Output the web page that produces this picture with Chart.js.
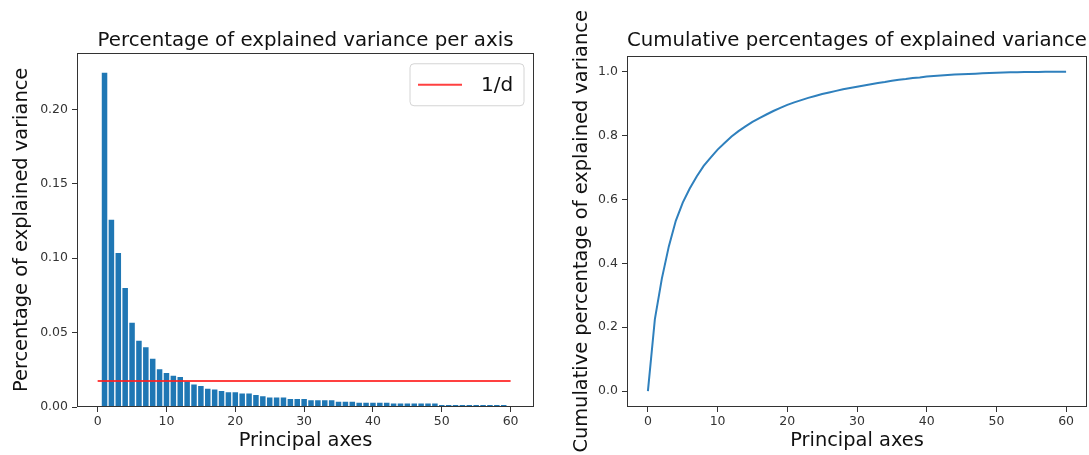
<!DOCTYPE html>
<html>
<head>
<meta charset="utf-8">
<script src="https://cdn.jsdelivr.net/npm/chart.js@4/dist/chart.umd.min.js"></script>
<style>
  html, body { margin: 0; padding: 0; background: #fff; }
  #wrap { position: relative; width: 1089px; height: 455px; }
  canvas { position: absolute; top: 0; }
</style>
</head>
<body>
<div id="wrap">
  <canvas id="varChart" width="545" height="455" style="left:0"></canvas>
  <canvas id="cumChart" width="544" height="455" style="left:545px"></canvas>
</div>
<script>
// principal axis numbers for the bars
const axes = [1, 2, 3, 4, 5, 6, 7, 8, 9, 10, 11, 12, 13, 14, 15, 16, 17, 18, 19, 20,
  21, 22, 23, 24, 25, 26, 27, 28, 29, 30, 31, 32, 33, 34, 35, 36, 37, 38, 39, 40,
  41, 42, 43, 44, 45, 46, 47, 48, 49, 50, 51, 52, 53, 54, 55, 56, 57, 58, 59, 60];

// explained variance ratio per axis
const explained = [0.2245, 0.1258, 0.1035, 0.0800, 0.0566, 0.0445, 0.0402, 0.0324, 0.0253, 0.0228,
  0.0210, 0.0201, 0.0172, 0.0152, 0.0141, 0.0123, 0.0117, 0.0107, 0.0099, 0.0099,
  0.0090, 0.0090, 0.0080, 0.0072, 0.0063, 0.0063, 0.0063, 0.0054, 0.0054, 0.0054,
  0.0045, 0.0045, 0.0045, 0.0045, 0.0036, 0.0036, 0.0036, 0.0029, 0.0029, 0.0029,
  0.0029, 0.0029, 0.0023, 0.0023, 0.0023, 0.0023, 0.0023, 0.0023, 0.0023, 0.0013,
  0.0013, 0.0013, 0.0013, 0.0013, 0.0013, 0.0013, 0.0013, 0.0013, 0.0013, 0.0003];

// the 1/d reference line
const refX = [0, 60];
const refY = [0.0175, 0.0175];

// cumulative curve, index 0..60
const cumIndex = [0, 1, 2, 3, 4, 5, 6, 7, 8, 9, 10, 11, 12, 13, 14, 15, 16, 17, 18, 19, 20,
  21, 22, 23, 24, 25, 26, 27, 28, 29, 30, 31, 32, 33, 34, 35, 36, 37, 38, 39, 40,
  41, 42, 43, 44, 45, 46, 47, 48, 49, 50, 51, 52, 53, 54, 55, 56, 57, 58, 59, 60];
const cumulative = [0, 0.225, 0.352, 0.453, 0.533, 0.590, 0.634, 0.672, 0.705, 0.731, 0.756,
  0.777, 0.797, 0.814, 0.829, 0.843, 0.855, 0.866, 0.877, 0.887, 0.896,
  0.904, 0.911, 0.918, 0.924, 0.930, 0.935, 0.940, 0.945, 0.949, 0.953,
  0.957, 0.961, 0.965, 0.968, 0.972, 0.975, 0.977, 0.980, 0.982, 0.985,
  0.9865, 0.988, 0.9895, 0.991, 0.992, 0.993, 0.994, 0.995, 0.996, 0.997,
  0.9975, 0.998, 0.9984, 0.9988, 0.9991, 0.9994, 0.9996, 0.9998, 0.9999, 1.0];

Chart.defaults.font.family = '"DejaVu Sans", sans-serif';
Chart.defaults.animation = false;

const tickFont = { size: 12.5 };
const labelFont = { size: 19.4 };
const dark = "#333";

// matplotlib style box round the plot area
const frame = {
  id: "frame",
  afterDraw(chart) {
    const { ctx, chartArea: a } = chart;
    ctx.save();
    ctx.strokeStyle = "#333";
    ctx.lineWidth = 1;
    ctx.strokeRect(Math.round(a.left) + 0.5, Math.round(a.top) + 0.5,
      Math.round(a.right - a.left) - 1, Math.round(a.bottom - a.top) - 1);
    ctx.restore();
  },
};

// legend box in the upper right corner of the plot
const cornerLegend = {
  id: "cornerLegend",
  afterDraw(chart) {
    const { ctx, chartArea } = chart;
    const ds = chart.data.datasets[0];
    const w = 114, h = 42;
    const x = chartArea.right - 10 - w;
    const y = chartArea.top + 11;
    ctx.save();
    ctx.beginPath();
    ctx.roundRect(x, y, w, h, 4);
    ctx.fillStyle = "rgba(255,255,255,0.8)";
    ctx.fill();
    ctx.strokeStyle = "#d4d4d4";
    ctx.lineWidth = 1;
    ctx.stroke();
    ctx.beginPath();
    ctx.moveTo(x + 8, y + h / 2);
    ctx.lineTo(x + 52, y + h / 2);
    ctx.strokeStyle = ds.borderColor;
    ctx.lineWidth = 2;
    ctx.stroke();
    ctx.fillStyle = "#111";
    ctx.font = '20px "DejaVu Sans"';
    ctx.textBaseline = "middle";
    ctx.fillText(ds.label, x + 71, y + h / 2 + 1);
    ctx.restore();
  },
};

function xScale(min, max) {
  return {
    type: "linear",
    min: min,
    max: max,
    offset: false,
    grid: { offset: false, drawOnChartArea: false, tickLength: 5, color: "#333" },
    border: { display: false },
    ticks: { stepSize: 10, includeBounds: false, autoSkip: false, maxRotation: 0,
      font: tickFont, color: dark, padding: 2 },
    title: { display: true, text: "Principal axes", font: labelFont, color: "#111",
      padding: { top: 0, bottom: 2 } },
    afterFit(scale) { scale.height = 48; },
  };
}

function yScale(min, max, step, digits, label, titlePad, width) {
  return {
    min: min,
    max: max,
    grid: { drawOnChartArea: false, tickLength: 5, color: "#333" },
    border: { display: false },
    ticks: { stepSize: step, includeBounds: false, autoSkip: false,
      font: tickFont, color: dark, padding: 4,
      callback: (v) => v.toFixed(digits) },
    title: { display: true, text: label, font: labelFont, color: "#111",
      padding: { top: titlePad, bottom: 0 } },
    afterFit(scale) { scale.width = width; },
  };
}

new Chart(document.getElementById("varChart"), {
  type: "bar",
  data: {
    datasets: [
      {
        type: "line",
        label: "1/d",
        data: refX.map((x, i) => ({ x: x, y: refY[i] })),
        borderColor: "rgba(255,30,30,0.85)",
        borderWidth: 2,
        pointRadius: 0,
        order: 0,
      },
      {
        label: "explained",
        data: axes.map((x, i) => ({ x: x, y: explained[i] })),
        backgroundColor: "#1f77b4",
        barPercentage: 0.8,
        categoryPercentage: 1.0,
        order: 1,
      },
    ],
  },
  options: {
    responsive: false,
    layout: { padding: { left: 0, right: 11, top: 0, bottom: 0 } },
    plugins: {
      legend: { display: false },
      tooltip: { enabled: false },
      title: {
        display: true,
        text: "Percentage of explained variance per axis",
        font: { size: 19.8, weight: "normal" },
        color: "#111",
        fullSize: false,
        padding: { top: 29, bottom: 0 },
      },
    },
    scales: {
      x: xScale(-3, 63.4),
      y: yScale(0, 0.238, 0.05, 2, "Percentage of explained variance", 10, 77),
    },
  },
  plugins: [frame, cornerLegend],
});

new Chart(document.getElementById("cumChart"), {
  type: "line",
  data: {
    datasets: [
      {
        label: "cumulative",
        data: cumIndex.map((x, i) => ({ x: x, y: cumulative[i] })),
        borderColor: "#2f80bd",
        borderWidth: 2,
        pointRadius: 0,
        tension: 0,
      },
    ],
  },
  options: {
    responsive: false,
    layout: { padding: { left: 0, right: 2, top: 0, bottom: 0 } },
    plugins: {
      legend: { display: false },
      tooltip: { enabled: false },
      title: {
        display: true,
        text: "Cumulative percentages of explained variance",
        font: { size: 19.8, weight: "normal" },
        color: "#111",
        fullSize: false,
        padding: { top: 29, bottom: 3 },
      },
    },
    scales: {
      x: xScale(-3, 63),
      y: yScale(-0.05, 1.05, 0.2, 1, "Cumulative percentage of explained variance", 25, 82),
    },
  },
  plugins: [frame],
});
</script>
</body>
</html>
